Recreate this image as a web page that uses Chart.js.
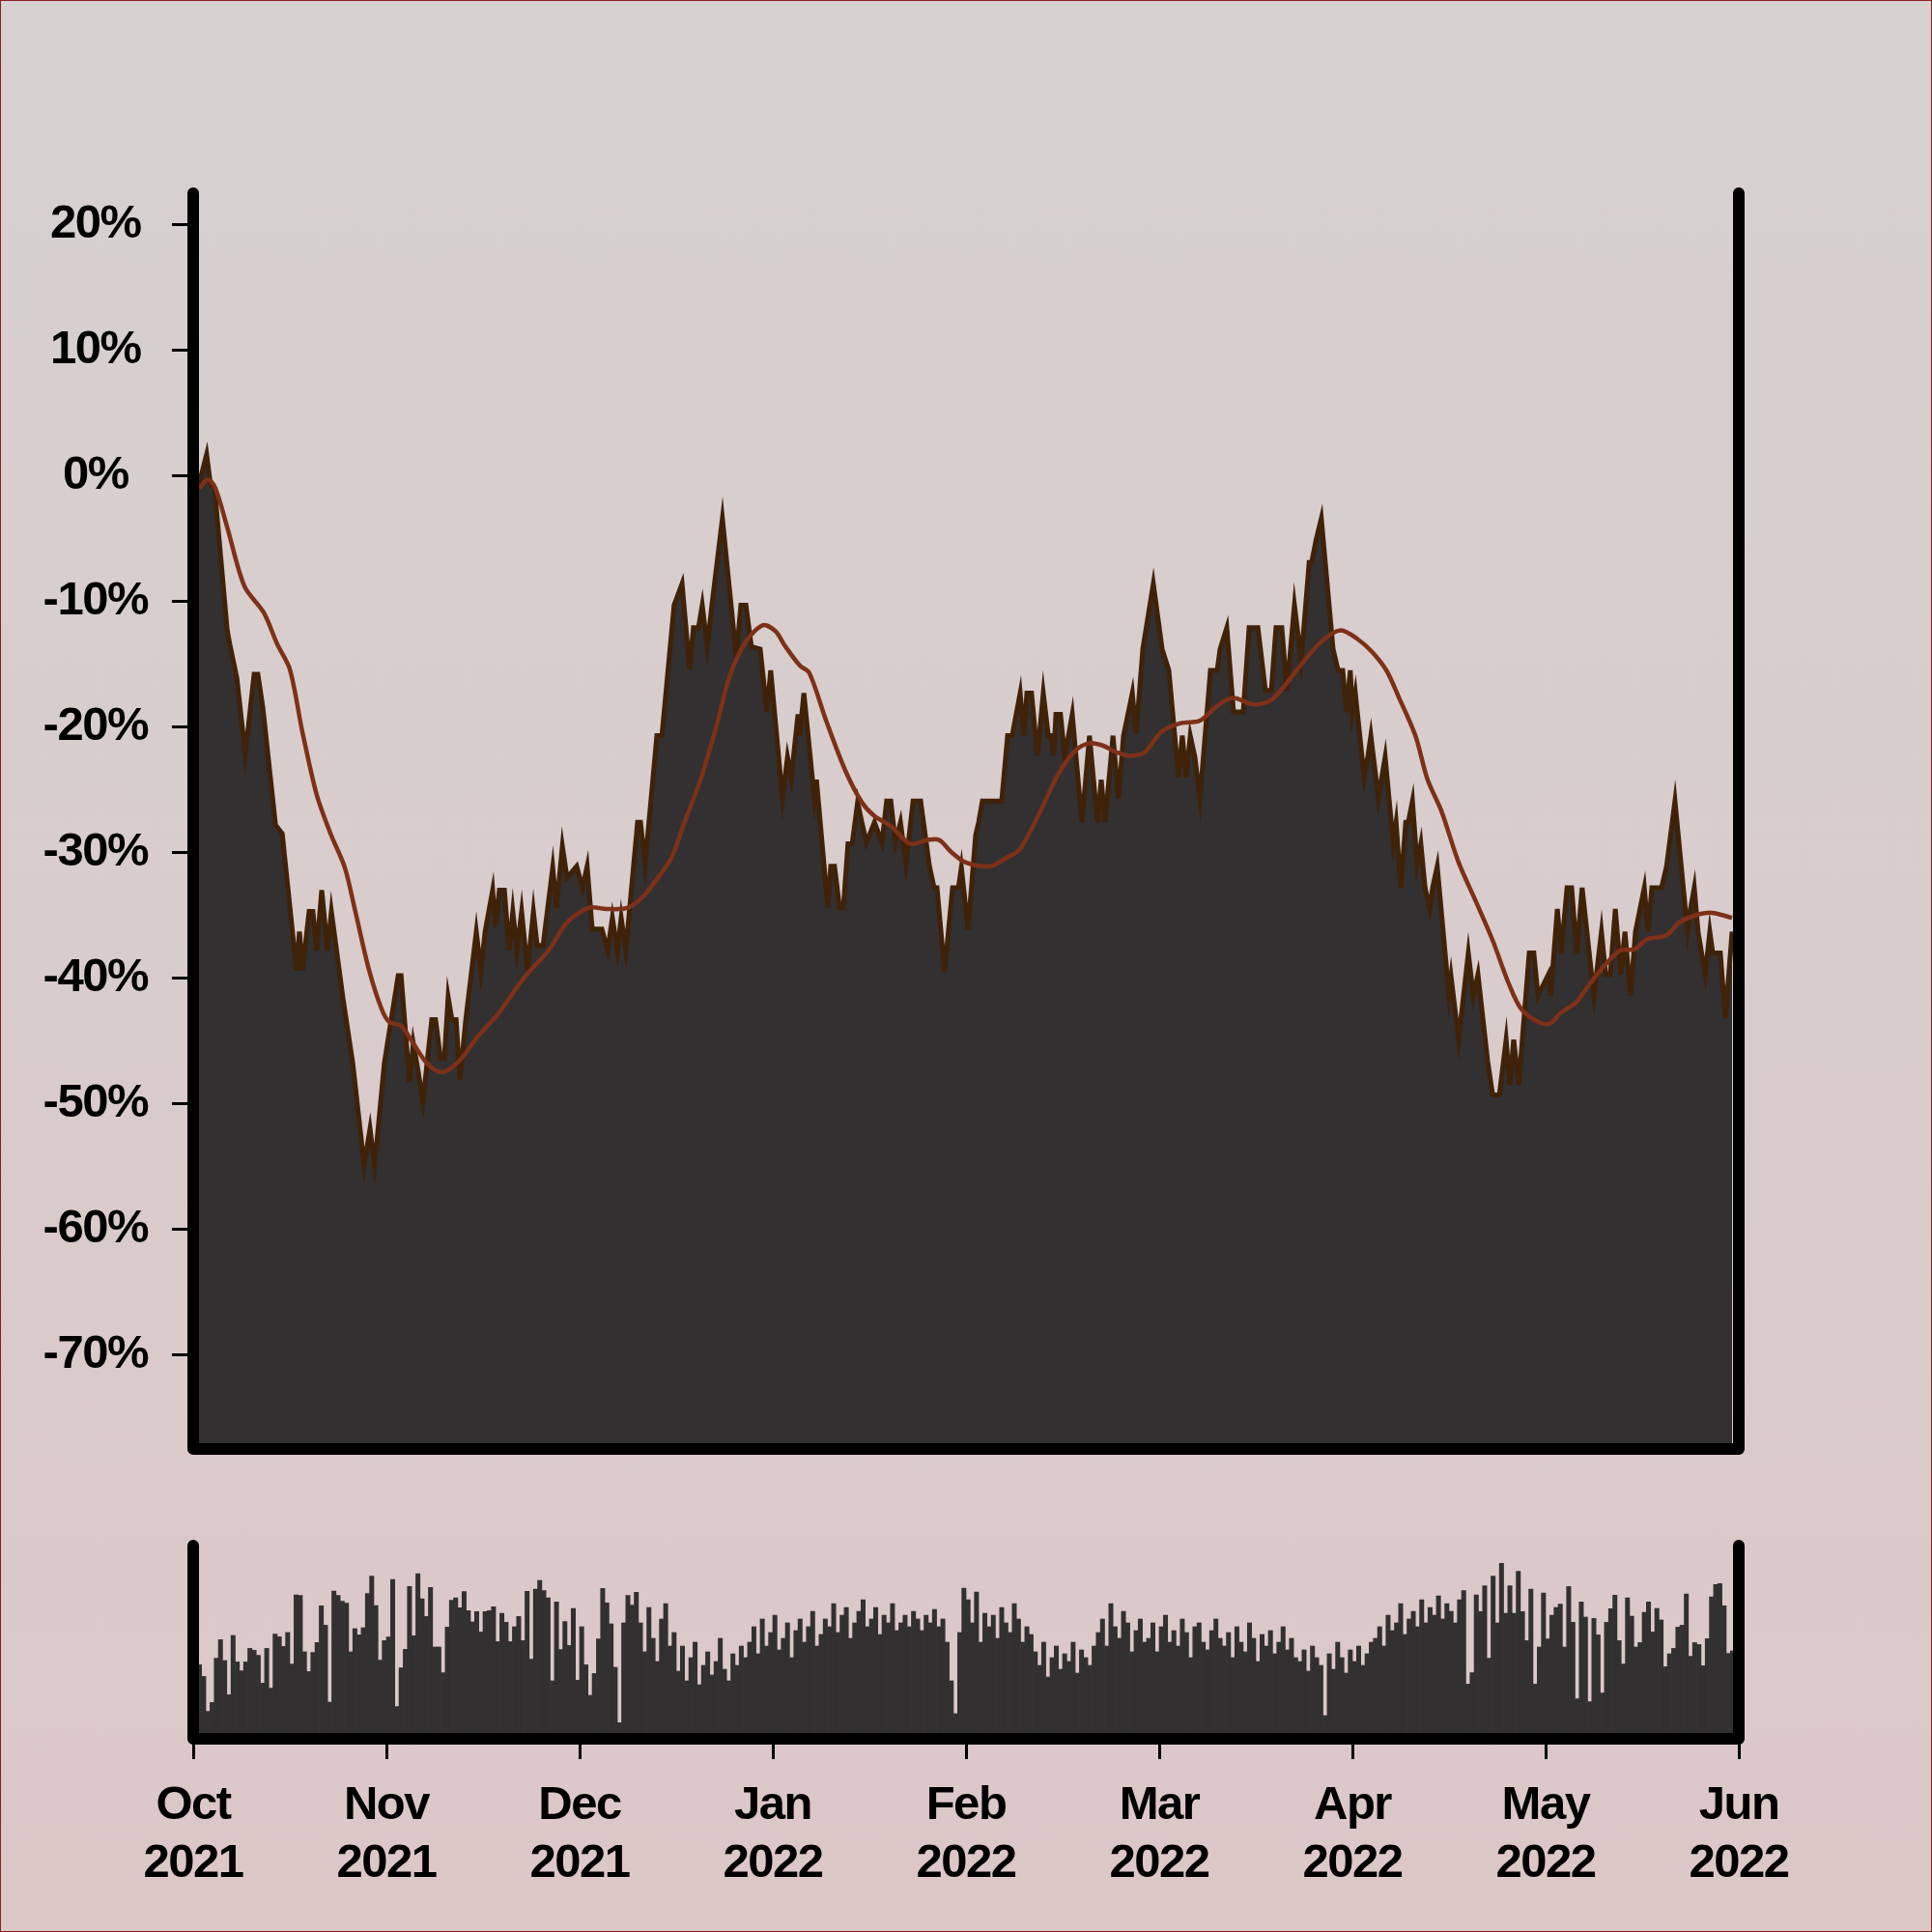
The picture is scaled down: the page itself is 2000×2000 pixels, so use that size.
<!DOCTYPE html>
<html>
<head>
<meta charset="utf-8">
<script src="https://cdn.jsdelivr.net/npm/chart.js@4.4.1/dist/chart.umd.min.js"></script>
<style>
  html, body { margin: 0; padding: 0; }
  #frame { position: relative; width: 2000px; height: 2000px; overflow: hidden;
    background: linear-gradient(#d6d1d1, #dcc7c7); }
  #edge { position: absolute; left: 0; top: 0; right: 0; bottom: 0; border: 1px solid #8c1c1c; }
  #main { position: absolute; left: 0; top: 0; width: 2000px; height: 1560px; }
  #vol { position: absolute; left: 0; top: 1560px; width: 2000px; height: 440px; }
</style>
</head>
<body>
<div id="frame">
  <canvas id="main" width="2000" height="1560"></canvas>
  <canvas id="vol" width="2000" height="440"></canvas>
  <div id="edge"></div>
</div>
<script>
const months = ['Oct', 'Nov', 'Dec', 'Jan', 'Feb', 'Mar', 'Apr', 'May', 'Jun'];
const years = ['2021', '2021', '2021', '2022', '2022', '2022', '2022', '2022', '2022'];
const yTicks = [-70, -60, -50, -40, -30, -20, -10, 0, 10, 20];
const barsPerMonth = 46;

// drawdown line, read as vertices (x = bar index, y = %)
const priceX = [0, 1.4, 3.2, 4.1, 5.1, 8.1, 8.7, 10.4, 12.4, 14.5,
  15.4, 16.6, 19.6, 21.2, 24.6, 25.3, 26.0, 27.6, 28.5, 29.4,
  30.6, 32.0, 32.9, 35.7, 38.0, 40.7, 42.1, 43.2, 45.5, 48.8,
  49.5, 51.5, 52.4, 53.4, 54.7, 56.8, 57.7, 58.9, 59.8, 60.7,
  61.6, 62.6, 63.5, 64.9, 67.4, 68.5, 69.5, 71.3, 72.0, 72.9,
  74.1, 75.2, 76.1, 77.1, 78.2, 79.6, 81.0, 81.9, 83.3, 85.6,
  86.5, 87.9, 89.0, 91.3, 92.7, 93.8, 95.0, 97.3, 98.7, 99.8,
  101.0, 101.9, 103.0, 105.8, 106.5, 107.6, 110.4, 111.6, 114.5, 116.4,
  118.2, 119.1, 120.3, 121.2, 122.4, 123.5, 126.0, 129.3, 130.4, 131.6,
  132.9, 135.0, 136.6, 137.5, 140.3, 141.5, 142.4, 144.0, 144.4, 145.4,
  147.9, 148.4, 151.1, 151.8, 152.7, 153.9, 154.8, 155.9, 156.9, 158.2,
  159.2, 160.3, 162.2, 164.0, 165.1, 166.1, 167.2, 168.4, 169.7, 171.4,
  173.2, 175.3, 176.4, 177.1, 178.9, 180.8, 182.2, 182.9, 184.5, 186.3,
  187.0, 187.9, 192.5, 193.9, 195.0, 196.9, 197.8, 198.5, 199.6, 201.0,
  202.4, 203.6, 204.2, 204.9, 205.4, 206.5, 207.5, 208.4, 209.3, 211.6,
  213.4, 215.3, 216.2, 217.1, 219.0, 220.3, 221.5, 223.6, 224.5, 226.1,
  228.6, 230.7, 232.3, 234.6, 235.5, 236.4, 237.4, 238.5, 239.7, 242.2,
  243.8, 244.5, 246.1, 247.7, 250.0, 251.4, 253.5, 255.3, 256.7, 257.8,
  259.2, 260.4, 262.2, 263.8, 265.7, 266.3, 267.3, 268.6, 271.4, 272.6,
  273.7, 274.6, 275.5, 276.0, 276.7, 278.8, 279.7, 280.4, 282.2, 282.9,
  283.8, 285.7, 286.4, 287.5, 288.7, 289.3, 290.3, 291.4, 292.3, 293.3,
  294.4, 295.1, 296.2, 299.0, 299.5, 301.3, 303.6, 304.8, 305.9, 308.2,
  309.4, 311.0, 312.6, 313.5, 314.4, 315.6, 318.1, 319.2, 320.2, 322.7,
  323.2, 324.8, 325.7, 327.1, 328.2, 329.4, 330.7, 333.5, 335.3, 336.3,
  337.4, 338.6, 339.9, 340.9, 342.2, 343.4, 345.5, 346.4, 347.3, 349.6,
  350.8, 352.8, 355.8, 356.5, 357.4, 358.3, 360.0, 361.1, 361.8, 363.6,
  364.8, 366.4];
const priceY = [-0.3, -0.65, 1.7, -0.65, -1.0, -12.3, -13.4, -16.1, -22.2, -15.8,
  -15.8, -18.5, -27.8, -28.5, -39.4, -36.3, -39.4, -34.7, -34.7, -37.8,
  -33.0, -37.8, -34.7, -41.7, -46.8, -54.9, -52.0, -54.9, -46.8, -39.8,
  -39.8, -48.3, -45.2, -47.1, -49.8, -43.3, -43.3, -46.4, -46.4, -41.5,
  -43.3, -43.3, -48.1, -43.3, -36.3, -39.4, -36.3, -33.0, -35.9, -33.0,
  -33.0, -37.8, -34.7, -37.8, -34.7, -39.4, -34.7, -37.4, -37.4, -31.2,
  -34.4, -29.5, -32.0, -31.1, -32.8, -31.1, -36.1, -36.1, -37.8, -35.2,
  -37.8, -35.2, -37.8, -27.6, -27.6, -30.9, -20.7, -20.7, -10.3, -8.6,
  -15.4, -12.1, -12.1, -10.3, -13.6, -10.3, -3.4, -14.4, -10.3, -10.3,
  -13.6, -13.8, -18.8, -15.5, -25.7, -22.4, -24.0, -19.0, -20.7, -17.3,
  -25.7, -24.2, -34.4, -31.1, -31.1, -34.4, -34.4, -29.3, -29.3, -26.0,
  -27.6, -29.2, -27.6, -29.2, -25.9, -25.9, -29.2, -27.6, -30.9, -25.9,
  -25.9, -31.1, -32.8, -32.8, -39.5, -32.8, -32.8, -31.2, -36.1, -28.6,
  -27.6, -25.9, -25.9, -20.7, -20.7, -17.3, -20.7, -17.3, -17.3, -22.3,
  -17.3, -20.7, -20.7, -22.3, -19.0, -19.0, -22.3, -20.7, -19.0, -27.6,
  -20.7, -27.6, -24.2, -27.6, -20.7, -25.7, -20.7, -17.3, -20.6, -13.8,
  -8.6, -13.8, -15.5, -24.0, -20.7, -24.0, -20.7, -22.4, -25.7, -15.5,
  -15.5, -13.8, -12.1, -18.8, -18.8, -12.1, -12.1, -17.1, -17.1, -12.1,
  -12.1, -17.1, -10.3, -14.7, -6.9, -6.9, -5.2, -3.4, -13.8, -15.5,
  -15.5, -18.8, -15.5, -18.8, -17.3, -24.0, -22.3, -20.7, -25.7, -24.2,
  -22.4, -29.2, -27.6, -32.8, -27.6, -27.6, -25.9, -30.9, -29.3, -32.8,
  -34.5, -32.8, -31.1, -41.4, -39.9, -44.9, -38.0, -41.4, -39.7, -46.6,
  -49.3, -49.3, -44.9, -48.5, -44.9, -48.5, -38.0, -38.0, -41.4, -39.7,
  -41.4, -34.5, -38.0, -32.8, -32.8, -38.0, -32.8, -41.4, -36.3, -39.7,
  -39.7, -34.5, -39.7, -36.3, -41.4, -36.3, -32.8, -36.3, -32.8, -32.8,
  -31.1, -25.9, -36.3, -34.5, -32.8, -36.3, -39.7, -36.3, -38.0, -38.0,
  -43.2, -36.3];

// moving average line
const avgX = [1.4, 3.5, 5.3, 8.1, 12.2, 16.8, 20.0, 23.0, 26.0, 29.4,
  32.7, 36.1, 38.6, 41.9, 44.9, 46.7, 49.5, 52.4, 55.7, 59.3,
  63.3, 67.9, 72.5, 78.7, 84.6, 89.2, 94.3, 98.4, 103.5, 107.4,
  111.1, 113.9, 117.3, 120.8, 124.7, 127.7, 131.6, 135.7, 138.7, 140.8,
  144.4, 146.7, 150.7, 155.3, 159.2, 162.2, 166.1, 170.7, 174.8, 177.6,
  180.6, 184.0, 189.8, 193.7, 196.7, 201.3, 205.9, 210.0, 213.4, 216.7,
  219.7, 223.1, 226.6, 230.5, 235.1, 239.7, 244.3, 247.7, 252.3, 256.5,
  260.4, 263.4, 268.6, 273.2, 277.2, 280.6, 284.1, 287.0, 291.0, 293.9,
  297.2, 301.3, 305.4, 309.4, 313.3, 316.3, 320.9, 323.2, 325.5, 329.4,
  332.4, 336.3, 339.7, 343.2, 346.2, 350.8, 353.7, 357.7, 361.6, 366.4];
const avgY = [-1.0, -0.3, -1.0, -4.1, -8.8, -10.9, -13.4, -15.4, -20.4, -25.4,
  -28.5, -31.2, -34.7, -39.4, -42.5, -43.5, -43.8, -45.2, -46.8, -47.5,
  -46.6, -44.6, -42.9, -40.0, -37.8, -35.5, -34.4, -34.5, -34.4, -33.4,
  -31.8, -30.4, -27.3, -24.2, -19.8, -16.0, -13.2, -11.9, -12.4, -13.5,
  -15.1, -15.7, -19.5, -23.5, -26.0, -27.1, -27.9, -29.3, -29.0, -29.0,
  -30.0, -30.8, -31.1, -30.4, -29.8, -27.0, -23.8, -21.9, -21.3, -21.5,
  -22.0, -22.3, -22.0, -20.4, -19.7, -19.5, -18.2, -17.7, -18.2, -17.9,
  -16.5, -15.2, -13.2, -12.3, -13.0, -14.0, -15.5, -17.6, -20.7, -24.2,
  -26.7, -30.8, -33.9, -37.0, -40.5, -42.5, -43.6, -43.6, -42.8, -41.9,
  -40.5, -38.9, -37.8, -37.7, -36.9, -36.6, -35.6, -35.0, -34.8, -35.2];

// volume bars, in % of panel height
const volume = [
  18.8, 38.3, 32.3, 14.2, 18.8, 41.7, 51.3, 40.5, 22.8, 53.5,
  39.8, 35.2, 39.8, 46.8, 45.8, 43.2, 28.8, 46.8, 26.2, 54.2,
  52.8, 47.8, 55, 38.7, 74.5, 74.2, 45, 34.8, 44.7, 49.8,
  68.8, 58.8, 19, 76.5, 74.2, 71.2, 70.2, 45, 57, 53.8,
  57.5, 75.2, 84.2, 69, 40.7, 50.8, 52.7, 82.5,
  16.7, 36.7, 46.3, 78.8, 53.3, 85.5, 72.5, 63.3, 78.3,
  47.5, 47.5, 34.2, 57.8, 71.7, 73, 67.8, 76.2, 66.3, 60.5,
  65.8, 55.3, 65.8, 66.3, 68.3, 50.3, 65, 60.3, 50.3, 58,
  63.3, 50.8, 76.3, 41.2, 77.5, 82, 76.7, 73, 30, 70.8,
  46.2, 60.7, 48.3, 67.5, 30.3, 58, 38.3, 22.5, 33.8, 51.7,
  77.8, 70.3, 59.5, 37, 8.3, 60, 74.2, 69.2, 75.8,
  60, 45, 68, 52, 40, 62, 70, 48, 55,
  35, 48, 30, 42, 50, 28, 38, 45, 33, 40, 52, 36, 30, 44, 38, 48, 42,
  50, 58, 44, 62, 48, 55, 64, 46, 52, 60, 42, 56, 62, 50, 58, 66, 48, 54,
  62, 58, 70, 55, 64, 68, 52, 60, 66, 72, 58, 62, 68, 54, 64, 60, 70, 56,
  60, 64, 58, 66, 62, 56, 64, 60, 67, 58, 62, 50,
  30, 13, 55, 78, 72, 60, 76, 50, 65,
  58, 64, 52, 68, 60, 55, 70, 62, 50, 58, 54,
  45, 38, 50, 32, 42, 48, 36, 44, 40, 50, 34, 46, 42, 38, 48,
  55, 62, 48, 70, 58, 52, 66, 60, 45, 56, 62, 50,
  52, 60, 45, 58, 64, 50, 56, 48, 62, 55, 42, 58, 60, 50, 46, 56, 62, 52,
  48, 55, 42, 58, 50, 45, 60, 52, 40, 54, 48, 56, 44, 50, 58, 46, 52, 42,
  40, 46, 35, 48, 42, 38, 12, 44, 36, 50, 42, 34, 46, 40, 48, 38, 44, 50,
  52, 58, 48, 64, 56, 60, 70, 54, 62, 66, 58, 72, 60, 68, 64, 74, 62, 70, 66, 60, 72,
  76.7, 28.3, 34.2, 74.5, 65.8, 79.2, 41.7, 84.2, 60, 90.8,
  65, 79.2, 65, 86.7, 65.8, 50.8, 77.5, 28.3, 47.5, 75.5, 51.7,
  64, 68, 69.7, 47.5, 78.8, 60.3, 20.7, 70.8, 63, 19.2,
  62.3, 53.8, 23.7, 60.3, 67.3, 74.3, 50.8, 38.7, 73, 63.5,
  47.5, 49.8, 65.5, 70.8, 55.3, 67.5, 61.5, 37.3, 44, 46.8,
  57.8, 58.8, 75, 42.7, 49.8, 48.8, 37.8, 51.8, 73.5, 79.8,
  80.3, 68.8, 44.2, 45.5, 66.8];

const xMax = barsPerMonth * (months.length - 1);
const monthTicks = (scale) => {
  scale.ticks = months.map((m, i) => ({ value: i * barsPerMonth }));
};

Chart.defaults.font.family = "'Liberation Sans', Arial, sans-serif";
Chart.defaults.font.weight = 'bold';
Chart.defaults.font.size = 49;
Chart.defaults.color = '#000';
Chart.defaults.animation = false;

const frame = {
  id: 'frame',
  beforeDraw(chart) {
    chart.ctx.letterSpacing = '-1.5px';
  },
  afterDatasetsDraw(chart) {
    const { ctx, chartArea: a } = chart;
    ctx.save();
    ctx.strokeStyle = '#000';
    ctx.lineWidth = 12;
    ctx.lineCap = 'round';
    ctx.lineJoin = 'round';
    ctx.beginPath();
    ctx.moveTo(a.left, a.top);
    ctx.lineTo(a.left, a.bottom);
    ctx.lineTo(a.right, a.bottom);
    ctx.lineTo(a.right, a.top);
    ctx.stroke();
    ctx.restore();
  },
};

new Chart(document.getElementById('main'), {
  type: 'line',
  data: {
    datasets: [
      {
        data: avgX.map((x, i) => ({ x, y: avgY[i] })),
        borderColor: '#7e3118',
        borderWidth: 4.5,
        pointRadius: 0,
        tension: 0.3,
        fill: false,
      },
      {
        data: priceX.map((x, i) => ({ x, y: priceY[i] })),
        borderColor: '#402209',
        backgroundColor: '#323031',
        borderWidth: 5,
        pointRadius: 0,
        tension: 0,
        fill: 'start',
      },
    ],
  },
  options: {
    responsive: false,
    layout: { padding: { left: 0, right: 200, top: 200, bottom: 60 } },
    plugins: { legend: { display: false }, tooltip: { enabled: false } },
    scales: {
      x: { type: 'linear', min: 0, max: xMax, display: false },
      y: {
        min: -77.5,
        max: 22.5,
        afterBuildTicks: (s) => { s.ticks = yTicks.map((v) => ({ value: v })); },
        afterFit: (s) => { s.width = 200; },
        border: { display: false },
        grid: { drawOnChartArea: false, tickLength: 22, tickWidth: 3, tickColor: '#000' },
        ticks: { callback: (v) => v + '%', crossAlign: 'center', padding: 22 },
      },
    },
  },
  plugins: [frame],
});

new Chart(document.getElementById('vol'), {
  type: 'bar',
  data: {
    datasets: [
      {
        data: volume.map((v, i) => ({ x: i + 0.5, y: v })),
        backgroundColor: '#323031',
        borderWidth: 0,
        barPercentage: 1,
        categoryPercentage: 1,
      },
    ],
  },
  options: {
    responsive: false,
    layout: { padding: { left: 200, right: 200, top: 40, bottom: 0 } },
    plugins: { legend: { display: false }, tooltip: { enabled: false } },
    scales: {
      x: {
        type: 'linear',
        min: 0,
        max: xMax,
        offset: false,
        afterBuildTicks: monthTicks,
        afterFit: (s) => { s.height = 200; },
        border: { display: false },
        grid: { drawOnChartArea: false, offset: false, tickLength: 21, tickWidth: 3, tickColor: '#000' },
        ticks: {
          autoSkip: false,
          maxRotation: 0,
          padding: 18,
          font: { lineHeight: 1.23 },
          callback: (v, i) => [months[i], years[i]],
        },
      },
      y: { min: 0, max: 100, display: false },
    },
  },
  plugins: [frame],
});
</script>
</body>
</html>
